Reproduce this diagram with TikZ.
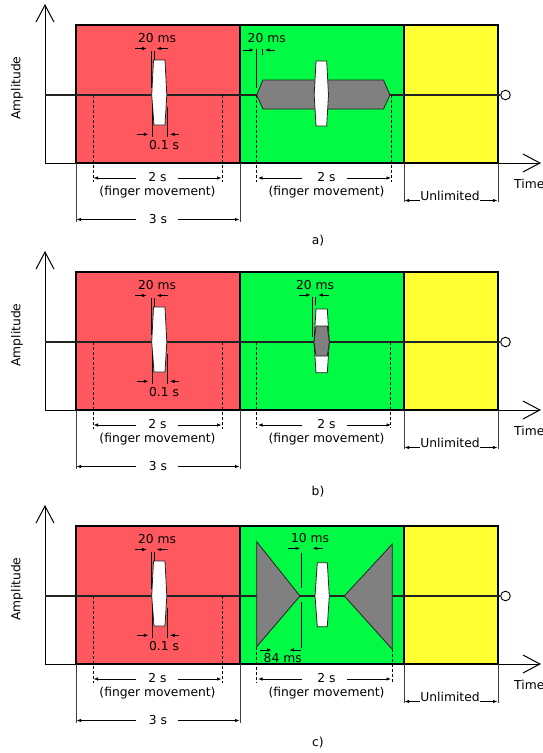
\documentclass[tikz,border=0pt]{standalone}
\usepackage{fontspec}
\setmainfont{DejaVu Sans}
\usetikzlibrary{arrows.meta}
\definecolor{redc}{RGB}{255,88,94}
\definecolor{greenc}{RGB}{0,250,68}
\definecolor{yellowc}{RGB}{255,255,51}
\definecolor{grayc}{RGB}{128,128,128}
\definecolor{inkc}{RGB}{35,35,35}
\tikzset{
 axis/.style={line width=1pt, draw=black, -{Straight Barb[length=17pt,width=18pt]}},
 box/.style={draw=black, line width=1.1pt},
 sig/.style={draw=inkc, line width=1.2pt},
 lens/.style={draw=inkc, fill=white, line width=0.8pt},
 grayshape/.style={draw=inkc, fill=grayc, line width=0.8pt},
 tickline/.style={draw=black, line width=0.7pt},
 extline/.style={draw=black!75, line width=0.8pt},
 dimarrow/.style={draw=black, line width=0.7pt, -{Latex[length=4.5pt,width=3.5pt]}},
 dashln/.style={draw=black, line width=0.7pt, dash pattern=on 3pt off 2pt},
 lbl/.style={font=\fontsize{12.3}{14}\selectfont, inner sep=0pt, text=black},
 endcirc/.style={circle, draw=black, fill=white, line width=0.9pt, minimum size=9.6pt, inner sep=0pt},
}
\newcommand\panelback{%
  \path[box, fill=redc] (76,25) rectangle (240,163);
  \path[box, fill=greenc] (240,25) rectangle (404,163);
  \path[box, fill=yellowc] (404,25) rectangle (498,163);
  \coordinate (o) at (45,163);
  \coordinate (ytip) at (45,4);
  \coordinate (xtip) at (541,163);
  \draw[axis] (o) -- (ytip);
  \draw[axis] (o) -- (xtip);
  \coordinate (s0) at (45,95);
  \node[endcirc] (endc) at (505.5,95) {};
  \draw[sig] (s0) -- (endc);
  \coordinate (e1t) at (76,163); \coordinate (e1b) at (76,222);
  \coordinate (e2t) at (240,163); \coordinate (e2b) at (240,222);
  \coordinate (e3t) at (404,163); \coordinate (e3b) at (404,202);
  \coordinate (e4t) at (498,163); \coordinate (e4b) at (498,202);
  \draw[extline] (e1t) -- (e1b) (e2t) -- (e2b) (e3t) -- (e3b) (e4t) -- (e4b);
  \coordinate (d1t) at (93,95); \coordinate (d1b) at (93,182);
  \coordinate (d2t) at (222,95); \coordinate (d2b) at (222,182);
  \draw[dashln] (d1t) -- (d1b) (d2t) -- (d2b);
}
\newcommand\panelfront{%
  % red pulse
  \path[lens] (153.5,60) -- (165,60) -- (166.8,95) -- (165,125) -- (154,125) -- (151.7,95) -- cycle;
  \coordinate (rt1a) at (151.7,51); \coordinate (rt1b) at (151.7,88);
  \coordinate (rt2a) at (154.3,51); \coordinate (rt2b) at (154.3,60);
  \draw[tickline] (rt1a) -- (rt1b) (rt2a) -- (rt2b);
  \coordinate (ra1) at (135,48.5); \coordinate (ra1e) at (146.7,48.5);
  \coordinate (ra2) at (168,48.5); \coordinate (ra2e) at (156.7,48.5);
  \draw[dimarrow] (ra1) -- (ra1e);
  \draw[dimarrow] (ra2) -- (ra2e);
  \node[lbl] (r20) at (157,38) {20 ms};
  \coordinate (rb1a) at (152.3,106.7); \coordinate (rb1b) at (152.3,136.7);
  \coordinate (rb2a) at (167.3,107); \coordinate (rb2b) at (167.3,136.7);
  \draw[tickline] (rb1a) -- (rb1b) (rb2a) -- (rb2b);
  \coordinate (rb3) at (136.7,134.3); \coordinate (rb3e) at (148.3,134.3);
  \coordinate (rb4) at (179.3,134.3); \coordinate (rb4e) at (170,134.3);
  \draw[dimarrow] (rb3) -- (rb3e);
  \draw[dimarrow] (rb4) -- (rb4e);
  \node[lbl] (r01) at (164,145.5) {0.1 s};
  % bottom dimensions
  \node[lbl] (r2s) at (157.5,177.5) {2 s};
  \coordinate (r2La) at (136,178); \coordinate (r2L) at (93.5,178);
  \coordinate (r2Ra) at (178,178); \coordinate (r2R) at (221.5,178);
  \draw[dimarrow] (r2La) -- (r2L);
  \draw[dimarrow] (r2Ra) -- (r2R);
  \node[lbl] (r2f) at (157.5,192.3) {(finger movement)};
  \node[lbl] (r3s) at (158,219) {3 s};
  \coordinate (r3La) at (136,219.5); \coordinate (r3L) at (76.5,219.5);
  \coordinate (r3Ra) at (178,219.5); \coordinate (r3R) at (239.5,219.5);
  \draw[dimarrow] (r3La) -- (r3L);
  \draw[dimarrow] (r3Ra) -- (r3R);
  \node[lbl] (g2s) at (326.5,177.5) {2 s};
  \coordinate (g2La) at (301.7,178); \coordinate (g2L) at (258,178);
  \coordinate (g2Ra) at (347.3,178); \coordinate (g2R) at (391,178);
  \draw[dimarrow] (g2La) -- (g2L);
  \draw[dimarrow] (g2Ra) -- (g2R);
  \node[lbl] (g2f) at (326.5,192.3) {(finger movement)};
  \node[lbl, anchor=base] (unl) at (450,200.5) {Unlimited};
  \coordinate (ulend) at (404.5,200.5); \coordinate (urend) at (497.5,200.5);
  \draw[dimarrow] (unl.base west) -- (ulend);
  \draw[dimarrow] (unl.base east) -- (urend);
  \node[lbl, anchor=west] (time) at (514,183.5) {Time};
  \node[lbl, rotate=90] (amp) at (17,88) {Amplitude};
}
\newcommand\greenA{%
  \path[grayshape] (256.7,95) -- (263,80) -- (383.5,80) -- (390,95) -- (383.5,109) -- (263,109) -- cycle;
  \path[lens] (316,61) -- (326.7,61) -- (328.5,95) -- (326.7,126) -- (316,126) -- (314.2,95) -- cycle;
  \coordinate (gt1a) at (256.3,49); \coordinate (gt1b) at (256.3,88);
  \coordinate (gt2a) at (262.7,49); \coordinate (gt2b) at (262.7,55);
  \draw[tickline] (gt1a) -- (gt1b) (gt2a) -- (gt2b);
  \coordinate (ga1) at (242.7,50); \coordinate (ga1e) at (254,50);
  \coordinate (ga2) at (275,50); \coordinate (ga2e) at (265,50);
  \draw[dimarrow] (ga1) -- (ga1e);
  \draw[dimarrow] (ga2) -- (ga2e);
  \node[lbl] (g20) at (266.7,38) {20 ms};
  \coordinate (gd1t) at (256.7,95); \coordinate (gd1b) at (256.7,182);
  \coordinate (gd2t) at (391.5,95); \coordinate (gd2b) at (391.5,182);
  \draw[dashln] (gd1t) -- (gd1b) (gd2t) -- (gd2b);
}
\newcommand\greenB{%
  \path[lens] (316,62) -- (327.3,62) -- (329.3,95) -- (327.3,125.7) -- (316,125.7) -- (314,95) -- cycle;
  \path[grayshape] (314,95) -- (316,79) -- (327.3,79) -- (329.3,95) -- (327.3,109) -- (316,109) -- cycle;
  \coordinate (gt1a) at (312.7,49.7); \coordinate (gt1b) at (312.7,89.7);
  \coordinate (gt2a) at (315.2,49.7); \coordinate (gt2b) at (315.2,58);
  \draw[tickline] (gt1a) -- (gt1b) (gt2a) -- (gt2b);
  \coordinate (ga1) at (299.3,48); \coordinate (ga1e) at (310.7,48);
  \coordinate (ga2) at (329.3,48); \coordinate (ga2e) at (318.3,48);
  \draw[dimarrow] (ga1) -- (ga1e);
  \draw[dimarrow] (ga2) -- (ga2e);
  \node[lbl] (g20) at (315,38) {20 ms};
  \coordinate (gd1t) at (256.7,95); \coordinate (gd1b) at (256.7,181);
  \coordinate (gd2t) at (390.7,95); \coordinate (gd2b) at (390.7,181);
  \draw[dashln] (gd1t) -- (gd1b) (gd2t) -- (gd2b);
}
\newcommand\greenC{%
  \path[grayshape] (256.7,40.7) -- (300,95) -- (256.7,145.7) -- cycle;
  \path[grayshape] (392.3,43) -- (344.3,95) -- (392.3,148.3) -- cycle;
  \path[lens] (317.3,61.7) -- (327.3,61.7) -- (329.3,95) -- (327.3,125.7) -- (317.3,125.7) -- (315,95) -- cycle;
  \coordinate (gt1a) at (301,52.3); \coordinate (gt1b) at (301,87.3);
  \coordinate (gt2a) at (301,100.7); \coordinate (gt2b) at (301,147.3);
  \draw[tickline] (gt1a) -- (gt1b) (gt2a) -- (gt2b);
  \coordinate (ga1) at (288.3,47.3); \coordinate (ga1e) at (300,47.3);
  \coordinate (ga2) at (323.3,47.3); \coordinate (ga2e) at (312.7,47.3);
  \draw[dimarrow] (ga1) -- (ga1e);
  \draw[dimarrow] (ga2) -- (ga2e);
  \node[lbl] (g10) at (310,36.7) {10 ms};
  \coordinate (gb1) at (259.5,149); \coordinate (gb1e) at (271.7,149);
  \coordinate (gb2) at (300.5,149); \coordinate (gb2e) at (289.3,149);
  \draw[dimarrow] (gb1) -- (gb1e);
  \draw[dimarrow] (gb2) -- (gb2e);
  \node[lbl] (g84) at (282.7,156.7) {84 ms};
  \coordinate (gd1t) at (256.7,145.7); \coordinate (gd1b) at (256.7,182);
  \coordinate (gd2t) at (392.3,148.3); \coordinate (gd2b) at (392.3,182);
  \draw[dashln] (gd1t) -- (gd1b) (gd2t) -- (gd2b);
}
\begin{document}
\begin{tikzpicture}[x=1pt,y=-1pt]
\useasboundingbox (0,0) rectangle (543,753);
\begin{scope}[name prefix=a-]
  \panelback \greenA \panelfront
  \node[lbl] (cap) at (318,240.5) {a)};
\end{scope}
\begin{scope}[shift={(0,247)}, name prefix=b-]
  \panelback \greenB \panelfront
  \node[lbl] (cap) at (318,245) {b)};
\end{scope}
\begin{scope}[shift={(0,501)}, name prefix=c-]
  \panelback \greenC \panelfront
  \node[lbl] (cap) at (318,242) {c)};
\end{scope}
\end{tikzpicture}
\end{document}
